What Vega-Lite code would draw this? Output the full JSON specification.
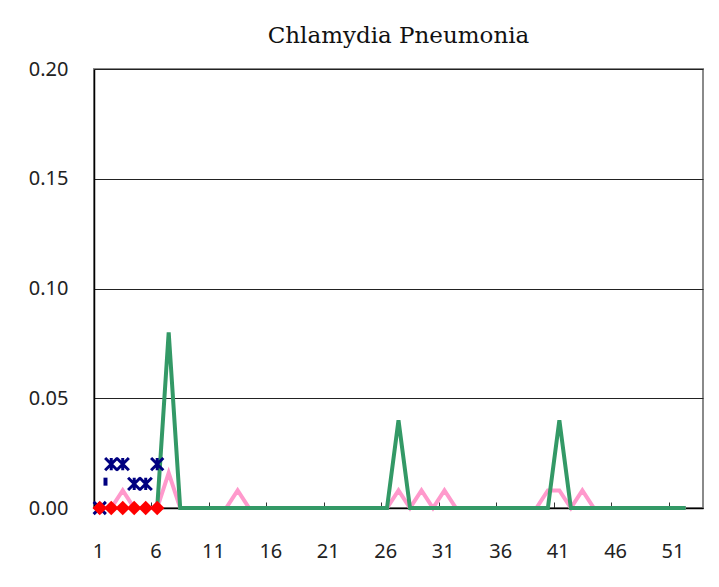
{
  "$schema": "https://vega.github.io/schema/vega-lite/v6.json",
  "autosize": "none",
  "width": 609,
  "height": 439,
  "padding": {"left": 94, "top": 69, "right": 16, "bottom": 79},
  "background": "white",
  "title": {
    "text": "Chlamydia Pneumonia",
    "font": "DejaVu Serif",
    "fontSize": 23,
    "fontWeight": "normal",
    "color": "#111111",
    "anchor": "middle",
    "baseline": "bottom",
    "offset": -12
  },
  "config": {
    "view": {"stroke": "#8a8a8a", "strokeWidth": 2},
    "axis": {
      "labelFont": "Noto Sans",
      "labelFontSize": 20,
      "labelColor": "#222222",
      "domainColor": "#000000",
      "domainWidth": 1.5,
      "title": null
    }
  },
  "datasets": {
    "pink": [
      {"w": 1, "v": 0}, {"w": 2, "v": 0}, {"w": 3, "v": 0.008}, {"w": 4, "v": 0}, {"w": 5, "v": 0},
      {"w": 6, "v": 0}, {"w": 7, "v": 0.016}, {"w": 8, "v": 0}, {"w": 9, "v": 0}, {"w": 10, "v": 0},
      {"w": 11, "v": 0}, {"w": 12, "v": 0}, {"w": 13, "v": 0.008}, {"w": 14, "v": 0}, {"w": 15, "v": 0},
      {"w": 16, "v": 0}, {"w": 17, "v": 0}, {"w": 18, "v": 0}, {"w": 19, "v": 0}, {"w": 20, "v": 0},
      {"w": 21, "v": 0}, {"w": 22, "v": 0}, {"w": 23, "v": 0}, {"w": 24, "v": 0}, {"w": 25, "v": 0},
      {"w": 26, "v": 0}, {"w": 27, "v": 0.008}, {"w": 28, "v": 0}, {"w": 29, "v": 0.008}, {"w": 30, "v": 0},
      {"w": 31, "v": 0.008}, {"w": 32, "v": 0}, {"w": 33, "v": 0}, {"w": 34, "v": 0}, {"w": 35, "v": 0},
      {"w": 36, "v": 0}, {"w": 37, "v": 0}, {"w": 38, "v": 0}, {"w": 39, "v": 0}, {"w": 40, "v": 0.008},
      {"w": 41, "v": 0.008}, {"w": 42, "v": 0}, {"w": 43, "v": 0.008}, {"w": 44, "v": 0}, {"w": 45, "v": 0},
      {"w": 46, "v": 0}, {"w": 47, "v": 0}, {"w": 48, "v": 0}, {"w": 49, "v": 0}, {"w": 50, "v": 0},
      {"w": 51, "v": 0}, {"w": 52, "v": 0}
    ],
    "green": [
      {"w": 6, "v": 0}, {"w": 7, "v": 0.08}, {"w": 8, "v": 0}, {"w": 9, "v": 0}, {"w": 10, "v": 0},
      {"w": 11, "v": 0}, {"w": 12, "v": 0}, {"w": 13, "v": 0}, {"w": 14, "v": 0}, {"w": 15, "v": 0},
      {"w": 16, "v": 0}, {"w": 17, "v": 0}, {"w": 18, "v": 0}, {"w": 19, "v": 0}, {"w": 20, "v": 0},
      {"w": 21, "v": 0}, {"w": 22, "v": 0}, {"w": 23, "v": 0}, {"w": 24, "v": 0}, {"w": 25, "v": 0},
      {"w": 26, "v": 0}, {"w": 27, "v": 0.04}, {"w": 28, "v": 0}, {"w": 29, "v": 0}, {"w": 30, "v": 0},
      {"w": 31, "v": 0}, {"w": 32, "v": 0}, {"w": 33, "v": 0}, {"w": 34, "v": 0}, {"w": 35, "v": 0},
      {"w": 36, "v": 0}, {"w": 37, "v": 0}, {"w": 38, "v": 0}, {"w": 39, "v": 0}, {"w": 40, "v": 0},
      {"w": 41, "v": 0.04}, {"w": 42, "v": 0}, {"w": 43, "v": 0}, {"w": 44, "v": 0}, {"w": 45, "v": 0},
      {"w": 46, "v": 0}, {"w": 47, "v": 0}, {"w": 48, "v": 0}, {"w": 49, "v": 0}, {"w": 50, "v": 0},
      {"w": 51, "v": 0}, {"w": 52, "v": 0}
    ],
    "blue": [
      {"w": 1, "v": 0}, {"w": 2, "v": 0.02}, {"w": 3, "v": 0.02}, {"w": 4, "v": 0.011}, {"w": 5, "v": 0.011}, {"w": 6, "v": 0.02}
    ],
    "red": [
      {"w": 1, "v": 0}, {"w": 2, "v": 0}, {"w": 3, "v": 0}, {"w": 4, "v": 0}, {"w": 5, "v": 0}, {"w": 6, "v": 0}
    ],
    "dash": [
      {"w": 1.5, "v": 0.012}
    ]
  },
  "encoding": {
    "x": {
      "field": "w",
      "type": "quantitative",
      "scale": {"domain": [0.5, 53.5], "nice": false, "zero": false},
      "axis": {
        "values": [1, 6, 11, 16, 21, 26, 31, 36, 41, 46, 51],
        "grid": false,
        "ticks": true,
        "tickSize": -6,
        "tickOffset": -5.75,
        "labelOffset": 4,
        "tickColor": "#333333",
        "tickWidth": 1,
        "labelPadding": 39,
        "labelFlush": false
      }
    },
    "y": {
      "field": "v",
      "type": "quantitative",
      "scale": {"domain": [0, 0.2], "nice": false},
      "axis": {
        "values": [0, 0.05, 0.1, 0.15, 0.2],
        "format": ".2f",
        "grid": true,
        "gridColor": "#222222",
        "gridWidth": 1,
        "ticks": false,
        "labelPadding": 26,
        "labelFlush": false
      }
    }
  },
  "layer": [
    {
      "data": {"name": "pink"},
      "mark": {"type": "line", "color": "#ff99cc", "strokeWidth": 4}
    },
    {
      "data": {"name": "green"},
      "mark": {"type": "line", "color": "#339966", "strokeWidth": 4}
    },
    {
      "data": {"name": "blue"},
      "mark": {
        "type": "point",
        "shape": "M-1,-1L1,1M-1,1L1,-1M0,-1L0,1",
        "filled": false,
        "color": "#000080",
        "strokeWidth": 3,
        "size": 150,
        "opacity": 1
      }
    },
    {
      "data": {"name": "red"},
      "mark": {"type": "line", "color": "#ff0000", "strokeWidth": 1.5, "point": {"shape": "diamond", "filled": true, "color": "#ff0000", "size": 210, "opacity": 1}}
    },
    {
      "data": {"name": "dash"},
      "mark": {"type": "tick", "orient": "vertical", "color": "#000080", "size": 8, "thickness": 4, "opacity": 1}
    }
  ]
}
